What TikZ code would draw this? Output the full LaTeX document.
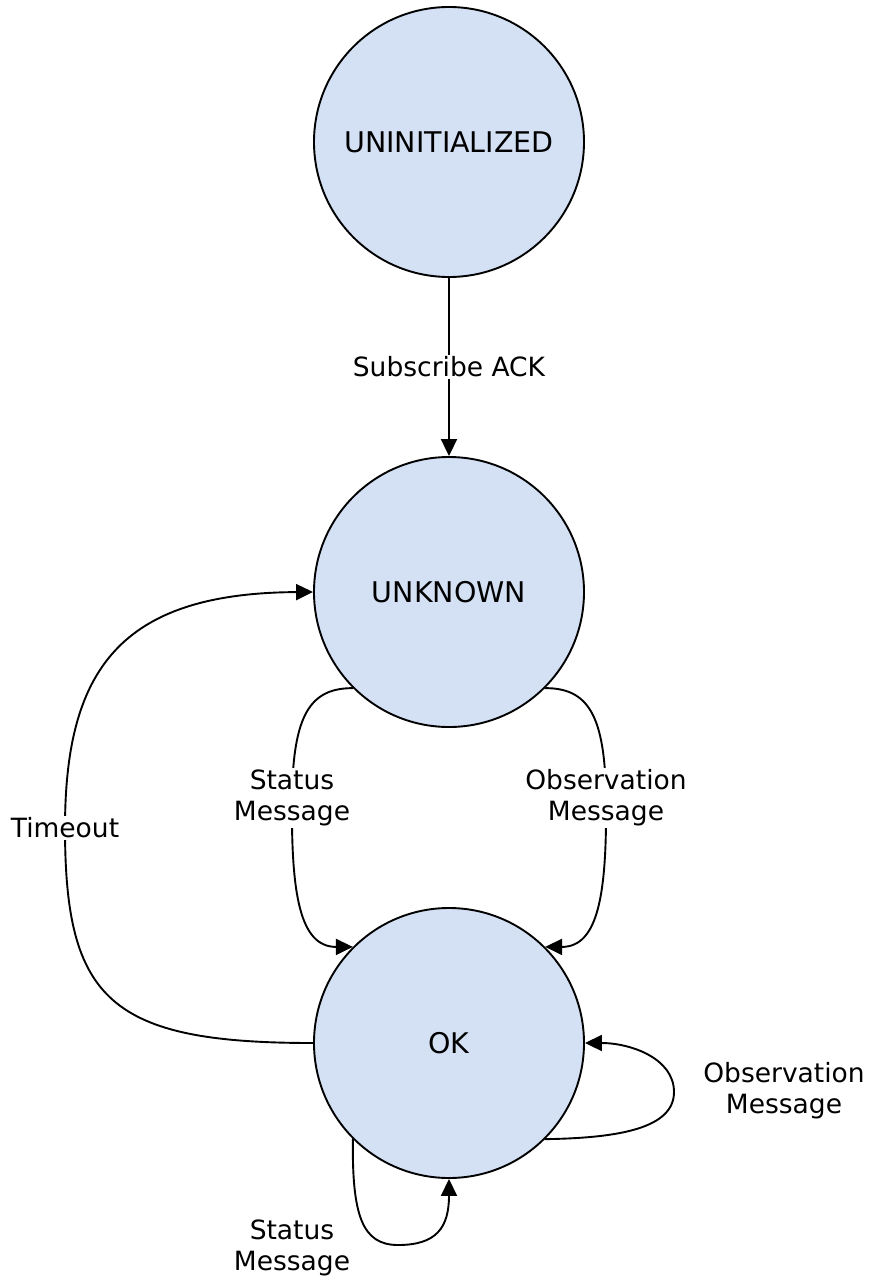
\documentclass[tikz,border=0pt]{standalone}
\usepackage{fontspec}
\setmainfont{DejaVu Sans}
\usetikzlibrary{arrows.meta}
\definecolor{statefill}{HTML}{D4E1F5}
\tikzset{
  state/.style={circle, draw=black, line width=1.9pt, fill=statefill,
    minimum size=270pt, inner sep=0pt, font=\fontsize{28.5}{33}\selectfont},
  edge/.style={draw=black, line width=1.9pt,
    -{Triangle[length=17pt,width=16pt]}},
  lbl/.style={fill=white, inner sep=2pt, align=center,
    font=\fontsize{26.5}{31}\selectfont},
  freelbl/.style={inner sep=0pt, align=center,
    font=\fontsize{26.5}{31}\selectfont}
}
\begin{document}
\begin{tikzpicture}[x=1pt, y=-1pt]
\useasboundingbox (0,0) rectangle (873,1283);

% states
\node[state] (UNINIT)  at (449,142)  {UNINITIALIZED};
\node[state] (UNKNOWN) at (449,592)  {UNKNOWN};
\node[state] (OK)      at (449,1043) {OK};

% UNINITIALIZED -> UNKNOWN
\draw[edge] (UNINIT) -- node[lbl] {Subscribe ACK} (UNKNOWN);

% UNKNOWN -> OK on a status message
\draw[edge] (UNKNOWN.225) .. controls (310,688) and (293,715) .. (292,798)
  node[lbl] {Status\\Message}
  .. controls (291,895) and (300,947) .. (OK.135);

% UNKNOWN -> OK on an observation message
\draw[edge] (UNKNOWN.-45) .. controls (588,688) and (605,715) .. (606,798)
  node[lbl] {Observation\\Message}
  .. controls (607,895) and (598,947) .. (OK.45);

% OK -> UNKNOWN on timeout
\draw[edge] (OK.west) .. controls (110,1043) and (65,1000) .. (65,828)
  node[lbl] {Timeout}
  .. controls (65,670) and (120,593) .. (UNKNOWN.west);

% OK self loop, observation message
\draw[edge] (OK.-45) .. controls (620,1138) and (674,1128) .. (674,1092)
  .. controls (674,1058) and (630,1043) .. (OK.east);
\node[freelbl] (obsloop) at (784,1091) {Observation\\Message};

% OK self loop, status message
\draw[edge] (OK.-135) .. controls (352,1215) and (362,1245) .. (398,1245)
  .. controls (436,1245) and (449,1228) .. (OK.south);
\node[freelbl] (statloop) at (292,1248) {Status\\Message};
\end{tikzpicture}
\end{document}
